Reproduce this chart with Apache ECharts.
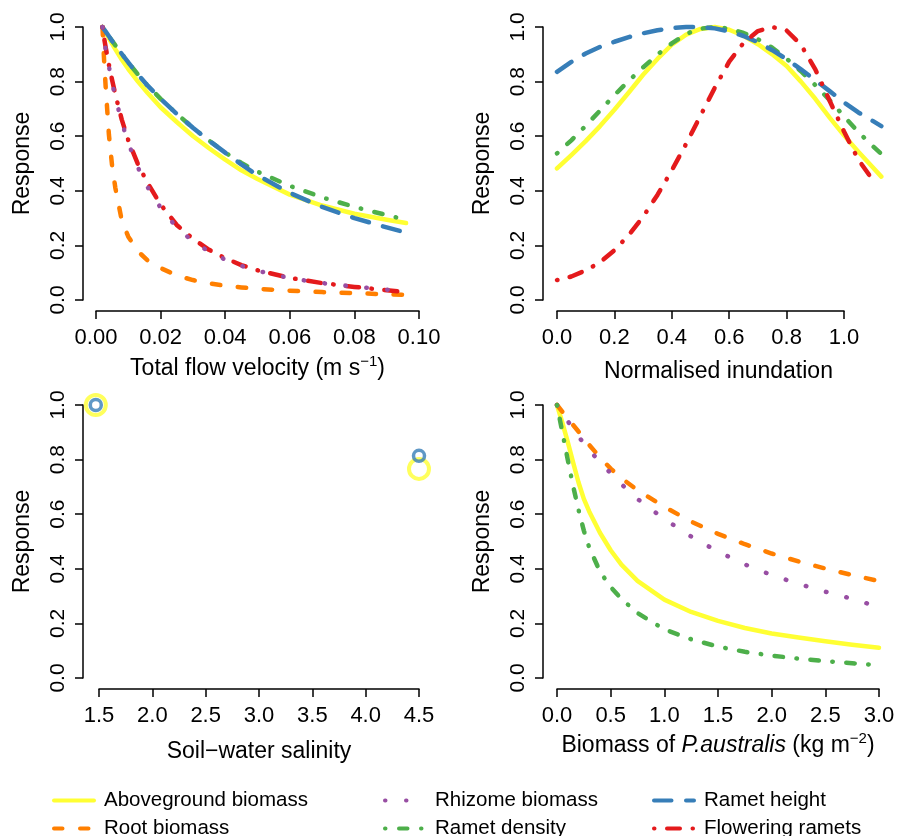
<!DOCTYPE html>
<html>
<head>
<meta charset="utf-8">
<script src="https://cdn.jsdelivr.net/npm/echarts/dist/echarts.min.js"></script>
<style>
body{margin:0;background:#fff;}
#main{width:897px;height:836px;}
</style>
</head>
<body>
<div id="main"></div>
<script>
// ---- panel 1: total flow velocity ----
var velX        = [0.002,0.0025,0.003,0.004,0.005,0.006,0.008,0.010,0.013,0.016,0.020,0.025,0.030,0.035,0.040,0.045,0.050,0.060,0.070,0.080,0.090,0.096];
var velAbove    = [1.000,0.989,0.979,0.958,0.938,0.918,0.880,0.846,0.800,0.758,0.706,0.652,0.601,0.556,0.514,0.475,0.443,0.386,0.346,0.316,0.294,0.282];
var velRoot     = [1.000,0.880,0.780,0.605,0.490,0.410,0.290,0.232,0.178,0.145,0.117,0.090,0.073,0.061,0.052,0.046,0.041,0.034,0.029,0.025,0.021,0.019];
var velRhizome  = [1.000,0.955,0.918,0.855,0.795,0.742,0.650,0.575,0.485,0.413,0.338,0.265,0.215,0.177,0.148,0.125,0.107,0.080,0.062,0.049,0.038,0.033];
var velDensity  = [1.000,0.991,0.983,0.966,0.949,0.933,0.901,0.870,0.826,0.785,0.737,0.682,0.631,0.584,0.540,0.502,0.470,0.418,0.376,0.341,0.311,0.294];
var velHeight   = [1.000,0.991,0.983,0.966,0.949,0.933,0.901,0.870,0.826,0.785,0.737,0.682,0.631,0.584,0.540,0.497,0.457,0.392,0.341,0.300,0.266,0.247];
var velFlower   = [1.000,0.960,0.925,0.862,0.805,0.752,0.660,0.585,0.497,0.428,0.350,0.275,0.224,0.184,0.153,0.128,0.109,0.081,0.062,0.048,0.036,0.029];

// ---- panel 2: normalised inundation ----
var inunX       = [0,0.05,0.1,0.15,0.2,0.25,0.3,0.35,0.4,0.45,0.5,0.55,0.6,0.65,0.7,0.75,0.8,0.85,0.9,0.95,1.0,1.05,1.1,1.13];
var inunAbove   = [0.482,0.531,0.582,0.637,0.697,0.760,0.825,0.883,0.935,0.972,0.993,1.000,0.990,0.968,0.937,0.900,0.857,0.800,0.737,0.668,0.603,0.543,0.486,0.452];
var inunDensity = [0.537,0.585,0.638,0.694,0.750,0.803,0.852,0.899,0.940,0.975,0.994,1.000,0.994,0.978,0.955,0.924,0.884,0.838,0.787,0.732,0.673,0.615,0.564,0.535];
var inunHeight  = [0.836,0.872,0.903,0.927,0.946,0.963,0.977,0.988,0.996,1.000,1.000,0.995,0.984,0.967,0.944,0.915,0.882,0.845,0.805,0.765,0.724,0.687,0.656,0.637];
var inunFlower  = [0.073,0.086,0.108,0.138,0.182,0.238,0.305,0.385,0.475,0.572,0.675,0.778,0.873,0.942,0.985,1.000,0.987,0.935,0.845,0.730,0.617,0.514,0.440];
var inunMax     = 1.13;   // data run past the last labelled tick (1.0)

// ---- panel 3: soil-water salinity ----
var salX        = [1.47,4.5];
var salAbove    = [1.000,0.766];
var salHeight   = [1.000,0.814];

// ---- panel 4: biomass of P. australis ----
var bioX        = [0,0.05,0.1,0.15,0.2,0.25,0.3,0.4,0.5,0.6,0.75,1.0,1.25,1.5,1.75,2.0,2.25,2.5,2.75,3.0];
var bioAbove    = [1.000,0.935,0.865,0.790,0.717,0.656,0.610,0.532,0.468,0.415,0.356,0.287,0.242,0.209,0.183,0.163,0.148,0.135,0.122,0.111];
var bioRoot     = [1.000,0.975,0.951,0.927,0.903,0.878,0.854,0.808,0.767,0.732,0.688,0.627,0.573,0.528,0.490,0.456,0.427,0.401,0.377,0.355];
var bioDensity  = [1.000,0.900,0.800,0.703,0.617,0.540,0.478,0.390,0.333,0.290,0.238,0.178,0.142,0.115,0.096,0.082,0.071,0.062,0.054,0.047];
var bioRhizomeX = [0,0.05,0.1,0.15,0.2,0.25,0.3,0.4,0.5,0.6,0.75,1.0,1.25,1.5,1.75,2.0,2.25,2.5,2.75,2.9];
var bioRhizome  = [1.000,0.970,0.941,0.912,0.885,0.859,0.835,0.791,0.750,0.710,0.656,0.582,0.518,0.463,0.416,0.377,0.345,0.316,0.290,0.272];

var FONT = 'Liberation Sans, Arial, Helvetica, sans-serif';

// line look for each response
var looks = {
	'Aboveground biomass': {color:'#FFFF33', dash:'solid'},
	'Root biomass':        {color:'#FF7F00', dash:[8.5,17.5]},
	'Rhizome biomass':     {color:'#984EA3', dash:[0.5,20.5]},
	'Ramet density':       {color:'#4DAF4A', dash:[0.5,13.5,8.5,13.5]},
	'Ramet height':        {color:'#377EB8', dash:[17.5,14.5]},
	'Flowering ramets':    {color:'#E41A1C', dash:[0.5,12.5,13,12.5]}
};

function zip(xs, ys){
	return ys.map(function(y, i){ return [xs[i], y]; });
}

function curve(name, panel, xs, ys){
	return {
		name: name,
		type: 'line',
		xAxisIndex: panel,
		yAxisIndex: panel,
		data: zip(xs, ys),
		symbol: 'none',
		smooth: false,
		clip: false,
		lineStyle: {color: looks[name].color, width: 4.5, type: looks[name].dash, cap: 'round', join: 'round'},
		itemStyle: {color: looks[name].color}
	};
}

function rings(name, panel, xs, ys, size, bw){
	return {
		name: name,
		type: 'scatter',
		xAxisIndex: panel,
		yAxisIndex: panel,
		data: zip(xs, ys),
		symbol: 'circle',
		symbolSize: size,
		clip: false,
		itemStyle: {color: 'rgba(255,255,255,0)', borderColor: looks[name].color, borderWidth: bw}
	};
}

function xAx(panel, min, max, step, digits, name, gap, nameStyle){
	return {
		type: 'value', gridIndex: panel, min: min, max: max, interval: step,
		position: 'bottom', offset: 11,
		axisLine: {show: true, onZero: false, lineStyle: {color: '#000', width: 1.5}},
		axisTick: {show: true, length: 8, lineStyle: {color: '#000', width: 1.5}},
		axisLabel: {color: '#000', fontSize: 22, fontFamily: FONT, margin: 16,
			formatter: function(v){ return v.toFixed(digits); }},
		splitLine: {show: false},
		name: name, nameLocation: 'middle', nameGap: gap,
		nameTextStyle: nameStyle
	};
}

function yAx(panel, off){
	return {
		type: 'value', gridIndex: panel, min: 0, max: 1, interval: 0.2,
		position: 'left', offset: off,
		axisLine: {show: true, onZero: false, lineStyle: {color: '#000', width: 1.5}},
		axisTick: {show: true, length: 8, lineStyle: {color: '#000', width: 1.5}},
		axisLabel: {color: '#000', fontSize: 21, fontFamily: FONT, margin: 14, rotate: 90,
			formatter: function(v){ return v.toFixed(1); }},
		splitLine: {show: false},
		name: 'Response', nameLocation: 'middle', nameGap: 49,
		nameTextStyle: {color: '#000', fontSize: 23, fontFamily: FONT}
	};
}

var plainName = {color: '#000', fontSize: 23, fontFamily: FONT};
var supName = {color: '#000', fontSize: 23, fontFamily: FONT, lineHeight: 30,
	rich: {
		sup: {fontSize: 15, fontFamily: FONT, color: '#000', verticalAlign: 'top', lineHeight: 15},
		it:  {fontSize: 23, fontFamily: FONT, color: '#000', fontStyle: 'italic'}
	}};
var shiftedName = {color: '#000', fontSize: 23, fontFamily: FONT, padding: [0,0,0,36]};

function legendCol(left, names){
	return {
		data: names, orient: 'vertical', left: left, top: 790, height: 70, padding: 0,
		itemWidth: 40, itemHeight: 14, itemGap: 7, selectedMode: false,
		itemStyle: {opacity: 0},
		lineStyle: {width: 4},
		textStyle: {color: '#000', fontSize: 20.5, fontFamily: FONT, padding: [0,0,0,5]}
	};
}

// panel 2: data grid is wider than the labelled axis (0 to 1.0)
var inunAxisWidth = 287;

var myChart = echarts.init(document.getElementById('main'));
var option = {
	animation: false,
	backgroundColor: '#fff',
	grid: [
		{left: 96,  top: 27,  width: 323, height: 273, outerBoundsMode: 'none'},
		{left: 557, top: 27,  width: inunAxisWidth * inunMax, height: 273, outerBoundsMode: 'none'},
		{left: 99,  top: 405, width: 320, height: 273, outerBoundsMode: 'none'},
		{left: 557, top: 405, width: 322, height: 273, outerBoundsMode: 'none'},
		{left: 557, top: 27,  width: inunAxisWidth, height: 273, outerBoundsMode: 'none'}
	],
	xAxis: [
		xAx(0, 0, 0.1, 0.02, 2, 'Total flow velocity (m s{sup|\u22121})', 43, supName),
		{type: 'value', gridIndex: 1, min: 0, max: inunMax, show: false},
		xAx(2, 1.5, 4.5, 0.5, 1, 'Soil\u2212water salinity', 51, plainName),
		xAx(3, 0, 3, 0.5, 1, 'Biomass of {it|P.australis} (kg m{sup|\u22122})', 42, supName),
		xAx(4, 0, 1, 0.2, 1, 'Normalised inundation', 49, shiftedName)
	],
	yAxis: [yAx(0, 13), yAx(1, 14), yAx(2, 16), yAx(3, 14),
		{type: 'value', gridIndex: 4, min: 0, max: 1, show: false}],
	legend: [
		legendCol(52,  ['Aboveground biomass', 'Root biomass']),
		legendCol(383, ['Rhizome biomass', 'Ramet density']),
		legendCol(652, ['Ramet height', 'Flowering ramets'])
	],
	series: [
		curve('Aboveground biomass', 0, velX, velAbove),
		curve('Root biomass',        0, velX, velRoot),
		curve('Ramet density',       0, velX, velDensity),
		curve('Ramet height',        0, velX, velHeight),
		curve('Flowering ramets',    0, velX, velFlower),
		curve('Rhizome biomass',     0, velX, velRhizome),

		curve('Aboveground biomass', 1, inunX, inunAbove),
		curve('Ramet density',       1, inunX, inunDensity),
		curve('Ramet height',        1, inunX, inunHeight),
		curve('Flowering ramets',    1, inunX, inunFlower),

		curve('Aboveground biomass', 3, bioX, bioAbove),
		curve('Root biomass',        3, bioX, bioRoot),
		curve('Rhizome biomass',     3, bioRhizomeX, bioRhizome),
		curve('Ramet density',       3, bioX, bioDensity),

		rings('Aboveground biomass', 2, salX, salAbove, 20, 4),
		rings('Ramet height',        2, salX, salHeight, 11, 3.5)
	]
};
myChart.setOption(option);
</script>
</body>
</html>
